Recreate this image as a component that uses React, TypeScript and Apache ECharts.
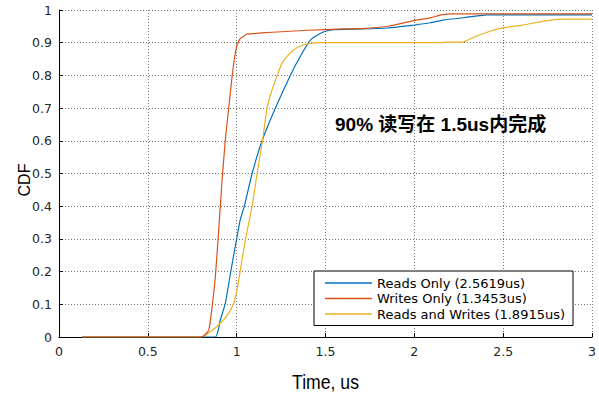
import React, { useEffect, useRef } from "react";
import * as echarts from "echarts";

const seriesNames = ["Reads Only (2.5619us)", "Writes Only (1.3453us)", "Reads and Writes (1.8915us)"];
const seriesColors = ["#0072BD", "#D95319", "#EDB120"];

const xTicks = [0, 0.5, 1, 1.5, 2, 2.5, 3];
const yTicks = [0, 0.1, 0.2, 0.3, 0.4, 0.5, 0.6, 0.7, 0.8, 0.9, 1];

const readsOnly: [number, number][] = [
  [0.13, 0], [0.88, 0], [0.908, 0.052], [0.936, 0.103], [0.965, 0.195], [0.992, 0.276],
  [1.02, 0.358], [1.043, 0.4], [1.087, 0.5], [1.143, 0.6], [1.218, 0.7], [1.302, 0.8],
  [1.36, 0.86], [1.415, 0.908], [1.46, 0.925], [1.5, 0.935], [1.55, 0.94], [1.7, 0.942],
  [1.85, 0.945], [1.92, 0.949], [2.0, 0.954], [2.09, 0.961], [2.16, 0.969], [2.3, 0.978],
  [2.41, 0.985], [3, 0.985],
];

const writesOnly: [number, number][] = [
  [0.13, 0], [0.79, 0], [0.814, 0.003], [0.843, 0.021], [0.862, 0.093], [0.88, 0.184],
  [0.899, 0.327], [0.918, 0.48], [0.936, 0.602], [0.955, 0.699], [0.974, 0.796], [0.989, 0.857],
  [1.002, 0.893], [1.021, 0.913], [1.058, 0.926], [1.124, 0.929], [1.2, 0.932], [1.4, 0.938],
  [1.6, 0.942], [1.73, 0.944], [1.86, 0.951], [1.99, 0.967], [2.09, 0.976], [2.15, 0.985],
  [2.22, 0.988], [3, 0.988],
];

const readsAndWrites: [number, number][] = [
  [0.13, 0], [0.8, 0], [0.852, 0.016], [0.908, 0.042], [0.955, 0.072], [0.983, 0.103],
  [1.002, 0.144], [1.021, 0.205], [1.049, 0.297], [1.087, 0.4], [1.115, 0.5], [1.145, 0.6],
  [1.171, 0.7], [1.19, 0.74], [1.208, 0.77], [1.255, 0.837], [1.29, 0.862], [1.321, 0.878],
  [1.36, 0.89], [1.396, 0.896], [1.47, 0.9], [2.16, 0.9], [2.17, 0.902], [2.27, 0.902],
  [2.34, 0.918], [2.41, 0.932], [2.48, 0.944], [2.61, 0.954], [2.74, 0.967], [2.84, 0.972],
  [3, 0.972],
];

const annotation = "90% 读写在 1.5us内完成";
const xName = "Time, us";
const yName = "CDF";

export default function App() {
  const ref = useRef<HTMLDivElement>(null);
  useEffect(() => {
    if (!ref.current) return;
    const chart = echarts.init(ref.current, undefined, { renderer: "svg" });
    const tickFont = "DejaVu Sans";
    const data = [readsOnly, writesOnly, readsAndWrites];
    chart.setOption({
      animation: false,
      backgroundColor: "#ffffff",
      grid: { left: 59, right: 7, top: 10, bottom: 58, containLabel: false },
      xAxis: {
        type: "value",
        min: xTicks[0],
        max: xTicks[xTicks.length - 1],
        interval: 0.5,
        axisLine: { show: true, onZero: false, lineStyle: { color: "#000", width: 1 } },
        axisTick: { show: true, inside: true, length: 4, lineStyle: { color: "#000" } },
        axisLabel: { color: "#262626", fontFamily: tickFont, fontSize: 12.5, margin: 8 },
        splitLine: { show: true, lineStyle: { color: "#777777", type: [1, 2], width: 1 } },
      },
      yAxis: {
        type: "value",
        min: yTicks[0],
        max: yTicks[yTicks.length - 1],
        interval: 0.1,
        axisLine: { show: true, onZero: false, lineStyle: { color: "#000", width: 1 } },
        axisTick: { show: true, inside: true, length: 4, lineStyle: { color: "#000" } },
        axisLabel: { color: "#262626", fontFamily: tickFont, fontSize: 12.5, margin: 7 },
        splitLine: { show: true, lineStyle: { color: "#777777", type: [1, 2], width: 1 } },
      },
      legend: {
        orient: "vertical",
        left: 314,
        top: 271,
        data: seriesNames,
        icon: "rect",
        backgroundColor: "#ffffff",
        borderColor: "#000000",
        borderWidth: 1,
        borderRadius: 0,
        padding: [4.5, 8, 4, 11],
        itemGap: 0.5,
        itemWidth: 47,
        itemHeight: 1.3,
        textStyle: { fontFamily: tickFont, fontSize: 13, color: "#000", lineHeight: 15 },
      },
      series: data.map((d, i) => ({
        name: seriesNames[i],
        type: "line",
        data: d,
        symbol: "none",
        showSymbol: false,
        smooth: 0.15,
        lineStyle: { color: seriesColors[i], width: 1.2 },
        itemStyle: { color: seriesColors[i] },
        z: i === 1 ? 4 : 3,
      })),
      graphic: [
        {
          type: "text",
          x: 335,
          y: 124,
          style: {
            text: annotation,
            font: "bold 19px 'Liberation Sans', 'Noto Sans CJK SC', sans-serif",
            fill: "#000",
            textAlign: "left",
            textVerticalAlign: "middle",
          },
          z: 10,
        },
        {
          type: "text",
          x: 325.5,
          y: 381,
          scaleX: 0.84,
          style: {
            text: xName,
            font: "21px 'Liberation Sans', sans-serif",
            fill: "#000",
            textAlign: "center",
            textVerticalAlign: "middle",
          },
        },
        {
          type: "text",
          x: 24,
          y: 180,
          rotation: Math.PI / 2,
          style: {
            text: yName,
            font: "16px 'Liberation Sans', sans-serif",
            fill: "#000",
            textAlign: "center",
            textVerticalAlign: "middle",
          },
        },
      ],
    });
    return () => chart.dispose();
  }, []);
  return <div ref={ref} style={{ position: "fixed", left: 0, top: 0, width: 599, height: 395 }} />;
}
